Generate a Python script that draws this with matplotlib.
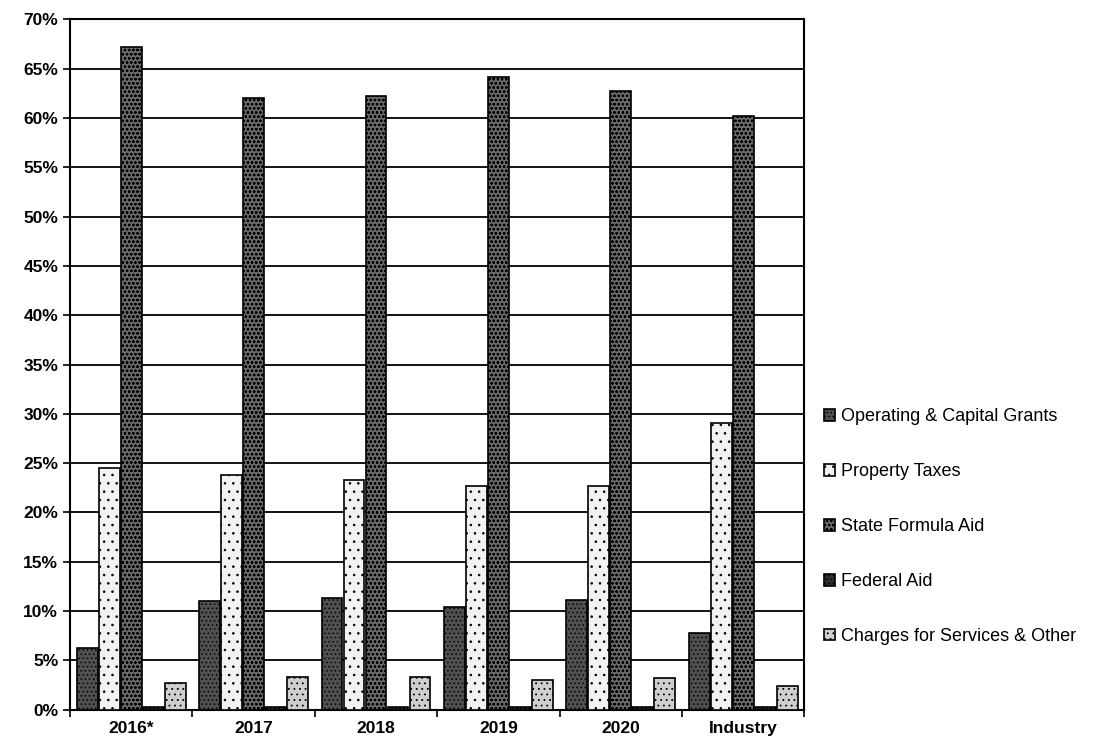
import matplotlib.pyplot as plt
import numpy as np
from matplotlib.ticker import PercentFormatter

plt.rcParams['font.family'] = ['Liberation Sans', 'DejaVu Sans']
plt.rcParams['hatch.linewidth'] = 0.6

categories = ["2016*", "2017", "2018", "2019", "2020", "Industry"]
series = ["Operating & Capital Grants", "Property Taxes", "State Formula Aid",
          "Federal Aid", "Charges for Services & Other"]
operating_grants = [6.3, 11.0, 11.3, 10.4, 11.1, 7.8]
property_taxes = [24.5, 23.8, 23.3, 22.7, 22.7, 29.1]
state_aid = [67.2, 62.0, 62.2, 64.2, 62.7, 60.2]
federal_aid = [0.3, 0.3, 0.3, 0.3, 0.3, 0.3]
charges = [2.7, 3.3, 3.3, 3.0, 3.2, 2.4]

values = [operating_grants, property_taxes, state_aid, federal_aid, charges]
colors = ["#505050", "#f2f2f2", "#6a6a6a", "#2e2e2e", "#cfcfcf"]
hatches = ["....", "..", "oooo", "....", "..."]

fig = plt.figure(figsize=(11.11, 7.47), dpi=100)
ax = fig.add_axes([0.063, 0.05, 0.661, 0.924])

x = np.arange(len(categories))
width = 0.17
for i, (vals, name) in enumerate(zip(values, series)):
    offs = (i - 2) * (width + 0.01)
    ax.bar(x + offs, vals, width, color=colors[i], edgecolor="black",
           linewidth=1.2, hatch=hatches[i], label=name, zorder=3)

ax.set_ylim(0, 70)
ax.set_xlim(-0.5, len(categories) - 0.5)
ax.set_yticks(np.arange(0, 71, 5))
ax.yaxis.set_major_formatter(PercentFormatter(decimals=0))
ax.grid(axis="y", color="black", linewidth=1.3, zorder=0)
ax.set_xticks(x)
ax.set_xticklabels(categories, fontweight="bold", fontsize=12.5)
ax.set_xticks(np.arange(-0.5, len(categories)), minor=True)
ax.tick_params(axis="x", which="major", length=0, pad=8)
ax.tick_params(axis="x", which="minor", length=5, width=1.2)
ax.tick_params(axis="y", labelsize=12.5, width=1.2, length=5)
for t in ax.get_yticklabels():
    t.set_fontweight("bold")
for s in ax.spines.values():
    s.set_linewidth(1.5)

ax.legend(loc="center left", bbox_to_anchor=(1.005, 0.265), frameon=False,
          fontsize=13, handlelength=0.6, handleheight=0.6, labelspacing=2.1,
          handletextpad=0.3)

fig.savefig("out.png", dpi=100)
